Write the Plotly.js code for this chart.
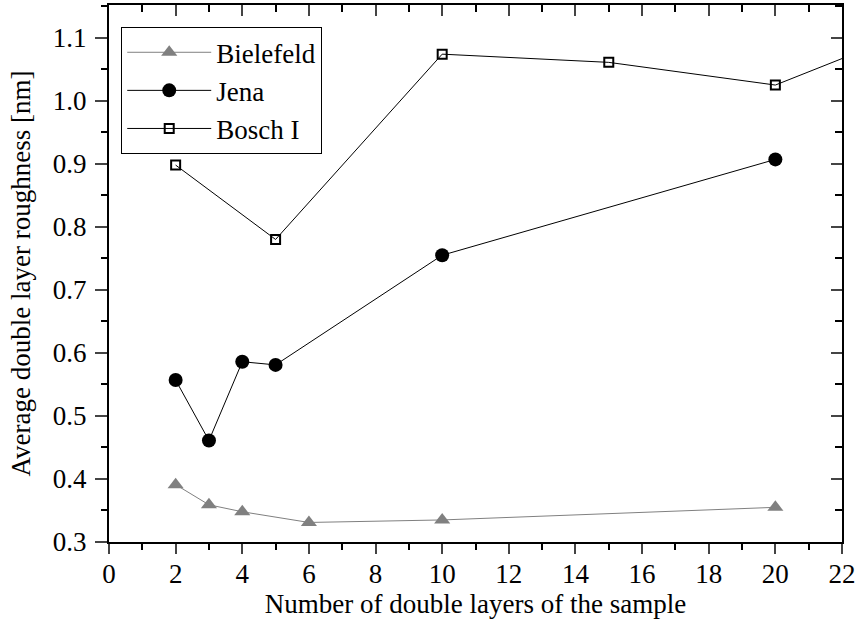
<!DOCTYPE html>
<html>
<head>
<meta charset="utf-8">
<script src="https://cdn.plot.ly/plotly-3.0.1.min.js"></script>
<style>html,body{margin:0;padding:0;background:#fff;}#chart{width:856px;height:628px;}</style>
</head>
<body>
<div id="chart"></div>
<script>
const bielefeldX = [2, 3, 4, 6, 10, 20];
const bielefeldY = [0.391, 0.359, 0.348, 0.331, 0.335, 0.355];
const jenaX = [2, 3, 4, 5, 10, 20];
const jenaY = [0.557, 0.461, 0.586, 0.581, 0.755, 0.907];
const boschX = [2, 5, 10, 15, 20, 25];
const boschY = [0.898, 0.780, 1.074, 1.061, 1.025, 1.13];
const xTickVals = [0, 2, 4, 6, 8, 10, 12, 14, 16, 18, 20, 22];
const yTickVals = [0.3, 0.4, 0.5, 0.6, 0.7, 0.8, 0.9, 1.0, 1.1];
const yTickText = ['0.3', '0.4', '0.5', '0.6', '0.7', '0.8', '0.9', '1.0', '1.1'];

const FONT = 'Liberation Serif';
const xRange = [0, 22];
const yRange = [0.3, 1.152];

const traces = [
  {x: bielefeldX, y: bielefeldY, name: 'Bielefeld', type: 'scatter', mode: 'lines+markers',
   line: {color: '#808080', width: 1}, marker: {symbol: 'triangle-up', size: 14, color: '#808080'}},
  {x: jenaX, y: jenaY, name: 'Jena', type: 'scatter', mode: 'lines+markers',
   line: {color: '#000', width: 1}, marker: {symbol: 'circle', size: 14, color: '#000'}},
  {x: boschX, y: boschY, name: 'Bosch I', type: 'scatter', mode: 'lines+markers',
   line: {color: '#000', width: 1}, marker: {symbol: 'square-open', size: 9, color: '#000', line: {width: 2}}},
  {x: [], y: [], xaxis: 'x2', yaxis: 'y2', showlegend: false, hoverinfo: 'skip', type: 'scatter', mode: 'markers'}
];

const layout = {
  width: 856, height: 628,
  margin: {l: 109, r: 14, t: 5, b: 86},
  paper_bgcolor: '#fff', plot_bgcolor: '#fff',
  font: {family: FONT, size: 27, color: '#000'},
  showlegend: true,
  legend: {x: 0.0164, y: 0.959, xanchor: 'left', yanchor: 'top',
    bordercolor: '#000', borderwidth: 1.2, bgcolor: '#fff',
    font: {family: FONT, size: 27, color: '#000'}, itemwidth: 84, tracegroupgap: 0},
  xaxis: {range: xRange, tickvals: xTickVals, ticks: 'outside', ticklen: 10, tickwidth: 2,
    linecolor: '#000', linewidth: 2, showline: true, showgrid: false, zeroline: false,
    tickfont: {family: FONT, size: 27}, ticklabelstandoff: -3,
    minor: {dtick: 1, tick0: 0, ticks: 'outside', ticklen: 6, tickwidth: 2, tickcolor: '#000', showgrid: false},
    title: {text: 'Number of double layers of the sample', font: {family: FONT, size: 27}, standoff: 2}},
  yaxis: {range: yRange, tickvals: yTickVals, ticktext: yTickText, ticks: 'outside', ticklen: 12, tickwidth: 2,
    linecolor: '#000', linewidth: 2, showline: true, showgrid: false, zeroline: false,
    tickfont: {family: FONT, size: 27}, ticklabelstandoff: 3,
    minor: {dtick: 0.05, tick0: 0.3, ticks: 'outside', ticklen: 6, tickwidth: 2, tickcolor: '#000', showgrid: false},
    title: {text: 'Average double layer roughness [nm]', font: {family: FONT, size: 27}, standoff: 14}},
  xaxis2: {range: xRange, overlaying: 'x', side: 'top', anchor: 'y2', tickvals: xTickVals, ticks: 'inside',
    ticklen: 11, tickwidth: 2, showticklabels: false, linecolor: '#000', linewidth: 2, showline: true,
    showgrid: false, zeroline: false,
    minor: {dtick: 1, tick0: 0, ticks: 'inside', ticklen: 7, tickwidth: 2, tickcolor: '#000', showgrid: false}},
  yaxis2: {range: yRange, overlaying: 'y', side: 'right', anchor: 'x2', tickvals: yTickVals, ticks: 'inside',
    ticklen: 11, tickwidth: 2, showticklabels: false, linecolor: '#000', linewidth: 2, showline: true,
    showgrid: false, zeroline: false,
    minor: {dtick: 0.05, tick0: 0.3, ticks: 'inside', ticklen: 7, tickwidth: 2, tickcolor: '#000', showgrid: false}}
};

Plotly.newPlot('chart', traces, layout, {staticPlot: true, displayModeBar: false});
</script>
</body>
</html>
